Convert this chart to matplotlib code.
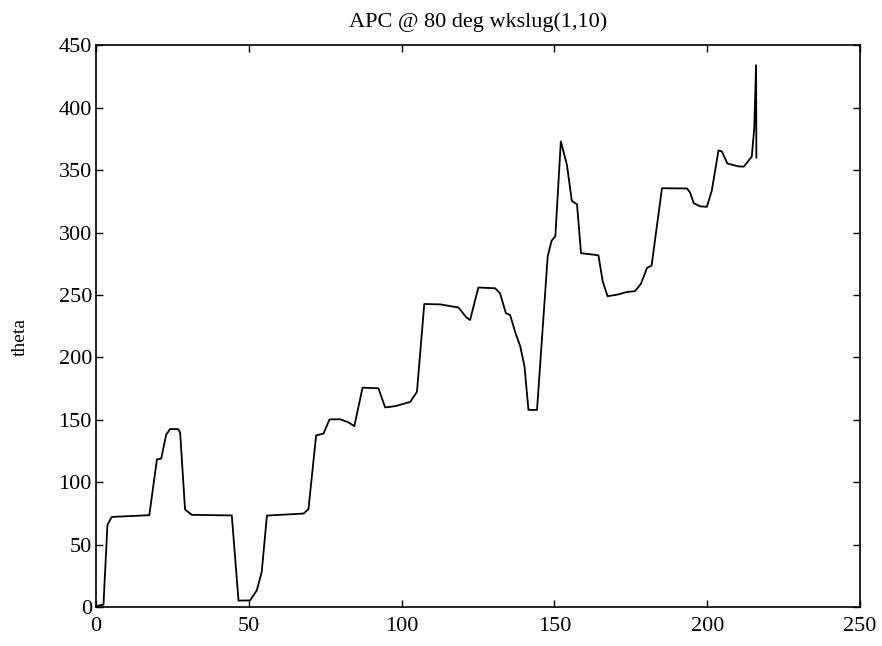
import matplotlib
matplotlib.use('Agg')
import matplotlib.pyplot as plt

# 読み取った曲線の値
x = [0, 1, 2.4, 3.7, 5.1, 17.4, 19.9, 21.3, 22.9, 24.2, 26.9, 27.5, 29.1, 31.3,
     44.4, 46.6, 50.4, 52.6, 54.2, 55.9, 67.9, 69.5, 72, 74.4, 76.4, 79.9, 82.6,
     84.5, 87.2, 92.4, 94.6, 97.9, 102.8, 105, 107.4, 112.6, 118.6, 121.1, 122.4,
     125.1, 130.6, 132.2, 134.1, 135.5, 137.2, 138.8, 140.2, 141.5, 144.3, 147.8,
     149.1, 150.3, 152.1, 154.1, 155.7, 157.4, 158.7, 164.4, 165.8, 167.4, 171,
     173.7, 176.4, 178.3, 180.3, 181.8, 185.2, 193.4, 194.4, 195.6, 197.7, 199.9,
     201.5, 203.7, 204.8, 206.6, 210.2, 212, 214.6, 215.4, 216, 216.1]
theta = [0, 1.5, 2, 66, 72.3, 73.7, 118.4, 119, 138, 142.7, 142.6, 139.6, 78.2, 74,
         73.5, 5.3, 5.5, 13.6, 28.4, 73.4, 75, 78.6, 137.6, 139, 150.4, 150.5, 148,
         145, 175.8, 175.3, 160, 161, 164.4, 172.4, 242.8, 242.5, 240, 232.2, 230,
         256, 255.4, 251.4, 235.5, 234, 220, 209, 193, 158, 158, 281, 293.6, 297,
         373, 354, 325.3, 322.6, 283.5, 281.8, 261, 249, 250.5, 252.4, 253.1, 258.9,
         271.7, 273.5, 335.5, 335.3, 332, 323.5, 321, 320.6, 333.5, 365.8, 365,
         355.3, 353, 352.8, 360.8, 383.6, 434, 360]

x_ticks = [0, 50, 100, 150, 200, 250]
y_ticks = [0, 50, 100, 150, 200, 250, 300, 350, 400, 450]

plt.rcParams['font.family'] = ['Liberation Serif', 'DejaVu Serif']

fig = plt.figure(figsize=(8.82, 6.46), dpi=100)
ax = fig.add_axes([0.109, 0.06, 0.866, 0.87])

ax.plot(x, theta, color='black', linewidth=1.3)

ax.set_xlim(0, 250)
ax.set_ylim(0, 450)
ax.set_xticks(x_ticks)
ax.set_yticks(y_ticks)
ax.tick_params(direction='in', length=5, width=1, top=True, right=True,
               labelsize=16)
ax.tick_params(axis='x', pad=7)
ax.tick_params(axis='y', pad=3)
for s in ax.spines.values():
    s.set_linewidth(1.2)

ax.set_title('APC @ 80 deg wkslug(1,10)', fontsize=16, pad=13)
ax.set_ylabel('theta', fontsize=14)
ax.yaxis.set_label_coords(-0.088, 0.48)

fig.savefig('out.png', dpi=100)
plt.close(fig)
